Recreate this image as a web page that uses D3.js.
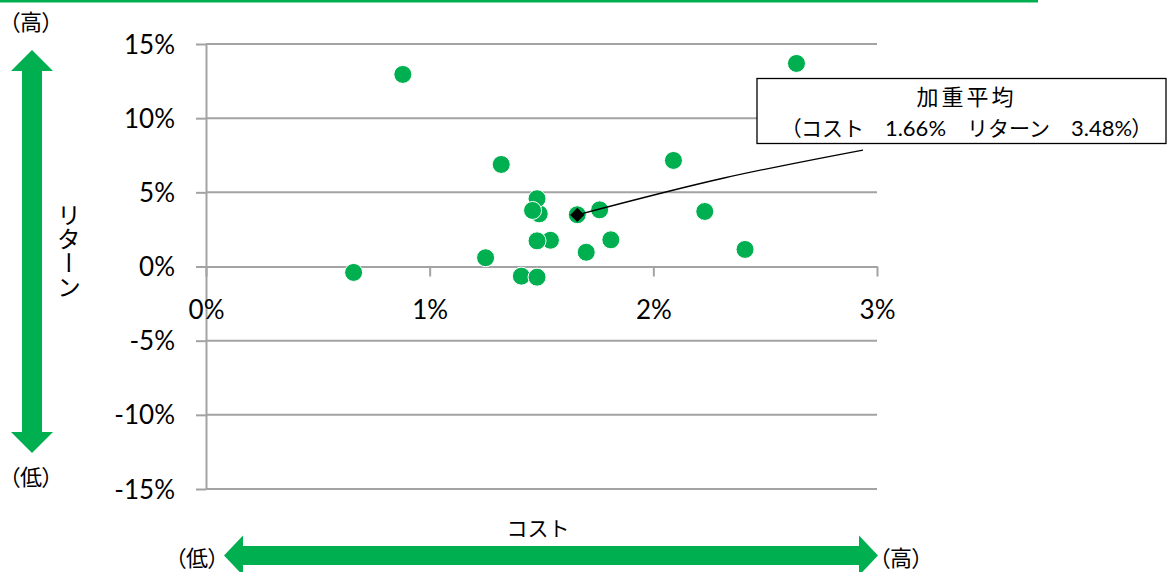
<!DOCTYPE html>
<html>
<head>
<meta charset="utf-8">
<script src="https://cdn.jsdelivr.net/npm/d3@7"></script>
<style>
  body { margin: 0; background: #fff; }
  svg { display: block; }
  .jp { font-family: "Noto Sans CJK JP", sans-serif; font-feature-settings: "palt"; fill: #000; }
  .jpw { font-family: "Noto Sans CJK JP", sans-serif; fill: #000; }
  .num { font-family: Lato, "Liberation Sans", sans-serif; fill: #000; }
</style>
</head>
<body>
<svg id="chart" width="1168" height="572"></svg>
<script>
// Fund cost (%) and return (%) — one entry per fund
const costs   = [0.66, 0.88, 1.25, 1.32, 1.41, 1.48, 1.49, 1.48, 1.46, 1.66, 1.76, 1.54, 1.48, 1.70, 1.81, 2.09, 2.23, 2.41, 2.64];
const returns = [-0.40, 12.95, 0.59, 6.88, -0.65, -0.72, 3.55, 4.57, 3.78, 3.49, 3.82, 1.77, 1.73, 0.96, 1.80, 7.15, 3.71, 1.15, 13.69];

// Weighted average
const avgCost = 1.66;
const avgReturn = 3.48;

// Axis ticks
const xTicks = [0, 1, 2, 3];
const yTicks = [-15, -10, -5, 0, 5, 10, 15];

const GREEN = "#00B050";
const GRID = "#a3a3a3";

const svg = d3.select("#chart");

const x = d3.scaleLinear().domain([0, 3]).range([206, 877]);
const y = d3.scaleLinear().domain([-15, 15]).range([489, 44]);

// top rule
svg.append("rect").attr("x", 0).attr("y", 0).attr("width", 1038).attr("height", 2.5).attr("fill", GREEN);

// horizontal gridlines
svg.append("g").selectAll("line")
  .data(yTicks.filter(d => d !== 0))
  .join("line")
  .attr("x1", x(0)).attr("x2", x(3))
  .attr("y1", d => y(d)).attr("y2", d => y(d))
  .attr("stroke", GRID).attr("stroke-width", 2);

// y axis
const yAxis = svg.append("g")
  .attr("transform", `translate(${x(0)},0)`)
  .call(d3.axisLeft(y).tickValues(yTicks).tickSize(10).tickSizeOuter(0).tickPadding(20)
    .tickFormat(d => d + "%"));
yAxis.select(".domain").attr("stroke", GRID).attr("stroke-width", 2);
yAxis.selectAll(".tick line").attr("stroke", GRID).attr("stroke-width", 2);
yAxis.selectAll(".tick text")
  .attr("class", "num").attr("font-size", 26).attr("dy", null).attr("y", 9).attr("x", -31)
  .attr("font-family", null);

// x axis along the zero line
const xAxis = svg.append("g")
  .attr("transform", `translate(0,${y(0)})`)
  .call(d3.axisBottom(x).tickValues(xTicks).tickSize(10).tickSizeOuter(0)
    .tickFormat(d => d + "%"));
xAxis.select(".domain").attr("stroke", GRID).attr("stroke-width", 2);
xAxis.selectAll(".tick line").attr("stroke", GRID).attr("stroke-width", 2);
xAxis.selectAll(".tick text")
  .attr("class", "num").attr("font-size", 26).attr("dy", null).attr("y", 52)
  .attr("font-family", null);

// fund points
svg.append("g").selectAll("circle")
  .data(costs.map((c, i) => ({ c, r: returns[i] })))
  .join("circle")
  .attr("cx", d => x(d.c)).attr("cy", d => y(d.r))
  .attr("r", 9)
  .attr("fill", GREEN).attr("stroke", "#fff").attr("stroke-width", 1);

// weighted-average callout
const ax = x(avgCost), ay = y(avgReturn);
const box = { x: 757, y: 78.5, w: 409, h: 65 };
svg.append("path")
  .attr("d", d3.line().curve(d3.curveMonotoneX)([[ax, ay], [724, 178], [863, 150]]))
  .attr("fill", "none").attr("stroke", "#000").attr("stroke-width", 1.3);

svg.append("path")
  .attr("d", d3.symbol(d3.symbolSquare, 100)())
  .attr("transform", `translate(${ax},${ay}) rotate(45)`)
  .attr("fill", "#000");

svg.append("rect")
  .attr("x", box.x).attr("y", box.y).attr("width", box.w).attr("height", box.h)
  .attr("fill", "#fff").attr("stroke", "#000").attr("stroke-width", 1.3);

const cx = box.x + box.w / 2 + 5;
svg.append("text").attr("class", "jpw")
  .attr("x", cx).attr("y", 105).attr("text-anchor", "middle")
  .attr("font-size", 22).attr("letter-spacing", 3)
  .text("加重平均");

const t2 = svg.append("text").attr("x", cx).attr("y", 136).attr("text-anchor", "middle");
[["jp", "（"], ["jpw", "コスト　"], ["num", d3.format(".2f")(avgCost) + "%"], ["jpw", "　リターン　"],
 ["num", d3.format(".2f")(avgReturn) + "%"], ["jp", "）"]]
  .forEach(([cls, s]) => {
    t2.append("tspan").attr("class", cls).attr("font-size", cls === "num" ? 22 : 21).text(s);
  });

// direction arrows
function hArrow(x0, x1, cy, shaftH, headH, headL) {
  const s = shaftH / 2, h = headH / 2;
  return `M${x0},${cy} L${x0 + headL},${cy - h} L${x0 + headL},${cy - s} L${x1 - headL},${cy - s}
          L${x1 - headL},${cy - h} L${x1},${cy} L${x1 - headL},${cy + h} L${x1 - headL},${cy + s}
          L${x0 + headL},${cy + s} L${x0 + headL},${cy + h} Z`;
}
function vArrow(y0, y1, cx, shaftW, headW, headL) {
  const s = shaftW / 2, h = headW / 2;
  return `M${cx},${y0} L${cx + h},${y0 + headL} L${cx + s},${y0 + headL} L${cx + s},${y1 - headL}
          L${cx + h},${y1 - headL} L${cx},${y1} L${cx - h},${y1 - headL} L${cx - s},${y1 - headL}
          L${cx - s},${y0 + headL} L${cx - h},${y0 + headL} Z`;
}
svg.append("path").attr("d", vArrow(50, 453, 32, 20, 42, 21)).attr("fill", GREEN);
svg.append("path").attr("d", hArrow(224, 878, 555.5, 19, 40, 19)).attr("fill", GREEN);

// arrow end labels
svg.append("text").attr("class", "jp").attr("x", 31).attr("y", 30).attr("text-anchor", "middle")
  .attr("font-size", 22).text("（高）");
svg.append("text").attr("class", "jp").attr("x", 31).attr("y", 485).attr("text-anchor", "middle")
  .attr("font-size", 22).text("（低）");
svg.append("text").attr("class", "jp").attr("x", 197).attr("y", 566).attr("text-anchor", "middle")
  .attr("font-size", 22).text("（低）");
svg.append("text").attr("class", "jp").attr("x", 901).attr("y", 566).attr("text-anchor", "middle")
  .attr("font-size", 22).text("（高）");

// axis titles
svg.append("text").attr("class", "jpw").attr("x", 538).attr("y", 536).attr("text-anchor", "middle")
  .attr("font-size", 21).text("コスト");
svg.append("text").attr("class", "jpw")
  .attr("x", 69).attr("y", 251).attr("text-anchor", "middle")
  .attr("font-size", 24)
  .style("writing-mode", "vertical-rl").style("text-orientation", "upright")
  .text("リターン");
</script>
</body>
</html>
